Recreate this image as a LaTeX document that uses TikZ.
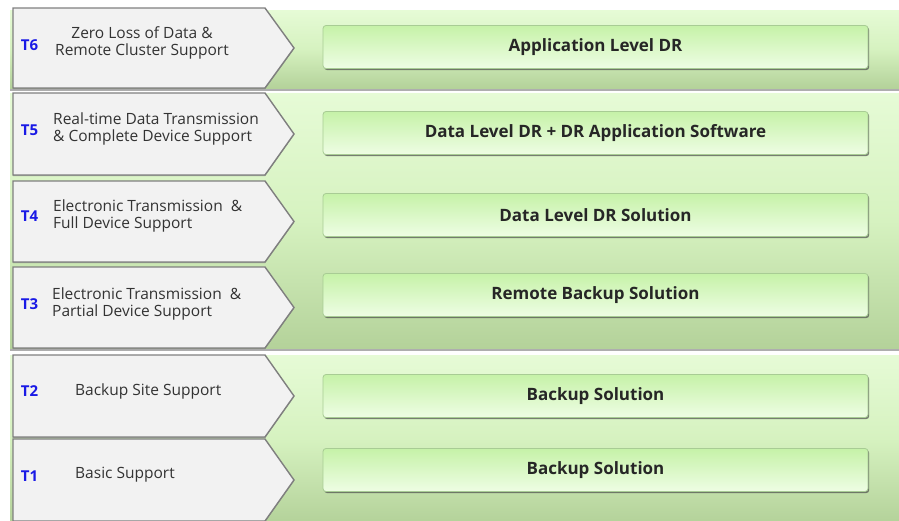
\documentclass[tikz,border=0pt]{standalone}
\usepackage{fontspec}
\setmainfont{Open Sans}
\usetikzlibrary{shadows}
\definecolor{bandtop}{HTML}{E6FBD6}
\definecolor{bandmid}{HTML}{D6F2C0}
\definecolor{bandbot}{HTML}{B4D29A}
\definecolor{chevfill}{HTML}{F2F2F2}
\definecolor{chevline}{HTML}{7F7F7F}
\definecolor{tierblue}{HTML}{1A1AE6}
\definecolor{soltop}{HTML}{C6F2A8}
\definecolor{solbot}{HTML}{EEFDE4}
\definecolor{solline}{HTML}{A8CC94}
\begin{document}
\begin{tikzpicture}[x=1pt,y=-1pt,
  band/.style={top color=bandtop, bottom color=bandbot, middle color=bandmid,
    drop shadow={shadow xshift=0pt, shadow yshift=-2.5pt, fill=black!45, opacity=0.7}},
  chev/.style={fill=chevfill, draw=chevline, line width=1.4pt, line join=miter,
    drop shadow={shadow xshift=0pt, shadow yshift=-1.2pt, fill=black!55, opacity=0.6}},
  tierlab/.style={text=tierblue, font=\bfseries\fontsize{15}{17}\selectfont, inner sep=0pt},
  desc/.style={text=black!80, font=\fontsize{15.5}{17}\selectfont, inner sep=0pt},
  sol/.style={rounded corners=3pt, top color=soltop, bottom color=solbot, draw=solline,
    line width=0.8pt, minimum width=545pt, minimum height=43pt,
    font=\bfseries\fontsize{17}{17}\selectfont, text=black!85,
    drop shadow={shadow xshift=1.2pt, shadow yshift=-1.6pt, fill=black!70, opacity=0.7}}]
\useasboundingbox (0,0) rectangle (899,520);

% green background bands
\path[band] (10,10) rectangle (899,88);
\path[band] (10,93) rectangle (899,348);
\path[band] (10,355) rectangle (899,522);

% tier chevrons
\foreach \ya/\yb in {8/88, 93/175, 181/262, 267/348, 355/437, 439/521}{
  \draw[chev] (13,\ya) -- (265,\ya) -- (294,{(\ya+\yb)/2}) -- (265,\yb) -- (13,\yb) -- cycle;
}

% tier labels
\node[tierlab] (t6) at (29.5,45) {T6};
\node[tierlab] (t5) at (29.5,130) {T5};
\node[tierlab] (t4) at (29.5,216) {T4};
\node[tierlab] (t3) at (29.5,304) {T3};
\node[tierlab] (t2) at (29.5,391) {T2};
\node[tierlab] (t1) at (29.5,476) {T1};

% tier descriptions
\node[desc, align=center] (d6) at (142,43) {Zero Loss of Data \&\\Remote Cluster Support};
\node[desc, align=left, anchor=west] (d5) at (53,129) {Real-time Data Transmission\\\& Complete Device Support};
\node[desc, align=left, anchor=west] (d4) at (53,216) {Electronic Transmission~~\&\\Full Device Support};
\node[desc, align=left, anchor=west] (d3) at (52,304) {Electronic Transmission~~\&\\Partial Device Support};
\node[desc, anchor=west] (d2) at (75,391) {Backup Site Support};
\node[desc, anchor=west] (d1) at (75,475) {Basic Support};

% solution boxes
\node[sol] (s6) at (595.5,47) {Application Level DR};
\node[sol] (s5) at (595.5,133) {Data Level DR + DR Application Software};
\node[sol] (s4) at (595.5,215) {Data Level DR Solution};
\node[sol] (s3) at (595.5,295) {Remote Backup Solution};
\node[sol] (s2) at (595.5,396) {Backup Solution};
\node[sol] (s1) at (595.5,470) {Backup Solution};
\end{tikzpicture}
\end{document}
